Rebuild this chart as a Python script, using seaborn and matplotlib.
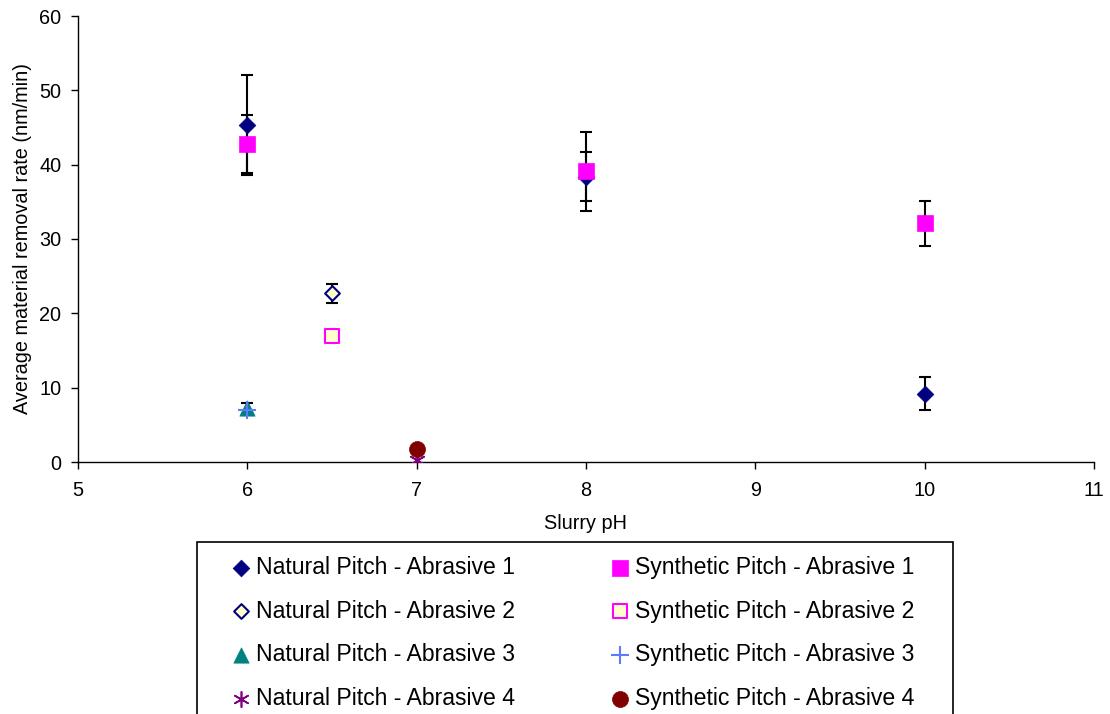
import matplotlib
matplotlib.use("Agg")
import matplotlib.pyplot as plt
import matplotlib.patches as mpatches
import seaborn as sns
import pandas as pd

sns.set_style("ticks")
plt.rcParams['font.family'] = ['Liberation Sans', 'DejaVu Sans']
plt.rcParams['text.color'] = 'black'
plt.rcParams['axes.labelcolor'] = 'black'

# ---- data ----
nat_a1_x = [6, 8, 10]
nat_a1_y = [45.3, 38.4, 9.2]
nat_a1_err = [6.7, 3.35, 2.2]

syn_a1_x = [6, 8, 10]
syn_a1_y = [42.8, 39.1, 32.1]
syn_a1_err = [3.9, 5.3, 3.05]

nat_a2_x = [6.5]
nat_a2_y = [22.7]
nat_a2_err = [1.25]

syn_a2_x = [6.5]
syn_a2_y = [17.0]
syn_a2_err = [0.3]

nat_a3_x = [6]
nat_a3_y = [7.2]
nat_a3_err = [0.8]

syn_a3_x = [6]
syn_a3_y = [7.0]

nat_a4_x = [7]
nat_a4_y = [0.3]

syn_a4_x = [7]
syn_a4_y = [1.8]

series = [
    ("Natural Pitch - Abrasive 1", nat_a1_x, nat_a1_y, nat_a1_err, dict(marker="D", s=8.5**2, color="#000080", edgecolor="#000080", linewidth=0.5)),
    ("Natural Pitch - Abrasive 2", nat_a2_x, nat_a2_y, nat_a2_err, dict(marker="D", s=7.5**2, color="#FFFFCC", edgecolor="#000080", linewidth=1.5)),
    ("Natural Pitch - Abrasive 3", nat_a3_x, nat_a3_y, nat_a3_err, dict(marker="^", s=11**2, color="#008080", edgecolor="#008080", linewidth=0.5)),
    ("Natural Pitch - Abrasive 4", nat_a4_x, nat_a4_y, None, dict(marker=(6, 2, 0), s=11**2, color="#800080", linewidth=1.2)),
    ("Synthetic Pitch - Abrasive 1", syn_a1_x, syn_a1_y, syn_a1_err, dict(marker="s", s=12**2, color="#FF00FF", edgecolor="#FF00FF", linewidth=0.5)),
    ("Synthetic Pitch - Abrasive 2", syn_a2_x, syn_a2_y, syn_a2_err, dict(marker="s", s=10.5**2, color="#FFFFCC", edgecolor="#FF00FF", linewidth=1.5)),
    ("Synthetic Pitch - Abrasive 3", syn_a3_x, syn_a3_y, None, dict(marker="+", s=13**2, color="#5B7CFF", linewidth=1.5)),
    ("Synthetic Pitch - Abrasive 4", syn_a4_x, syn_a4_y, None, dict(marker="o", s=11.5**2, color="#800000", edgecolor="#800000", linewidth=0.5)),
]

fig = plt.figure(figsize=(11.10, 7.14), dpi=100)
ax = fig.add_axes([78/1110, 1-462/714, (1094-78)/1110, (462-16)/714])

handles = {}
for name, xs, ys, err, style in series:
    if err is not None:
        ax.errorbar(xs, ys, yerr=err, fmt="none", ecolor="black", elinewidth=1.5,
                    capsize=4, capthick=1.5, zorder=2)
    df = pd.DataFrame({"x": xs, "y": ys})
    sns.scatterplot(data=df, x="x", y="y", ax=ax, zorder=3, label=name, legend=False, **style)
    handles[name] = ax.collections[-1]

ax.set_xlim(5, 11)
ax.set_ylim(0, 60)
ax.set_xticks([5, 6, 7, 8, 9, 10, 11])
ax.set_yticks([0, 10, 20, 30, 40, 50, 60])
ax.tick_params(axis="both", labelsize=14.3, length=5, width=1, colors="black")
ax.tick_params(axis="x", pad=9)
ax.tick_params(axis="y", pad=7)
ax.set_xlabel("Slurry pH", fontsize=14.3, labelpad=10)
ax.set_ylabel("Average material removal rate (nm/min)", fontsize=14.3, labelpad=5)
for sp in ["top", "right"]:
    ax.spines[sp].set_visible(False)
for sp in ["left", "bottom"]:
    ax.spines[sp].set_color("black")
    ax.spines[sp].set_linewidth(1)

# legend frame
frame = mpatches.Rectangle((197/1110, -0.05), (953-197)/1110, (0.05 + 1 - 542/714),
                           transform=fig.transFigure, facecolor="white", edgecolor="black",
                           linewidth=1.2, zorder=0)
fig.patches.append(frame)

names = [s[0] for s in series]
leg = fig.legend([handles[n] for n in names], names, loc="upper left",
                 bbox_to_anchor=(231/1110, 1-556/714), ncol=2, frameon=False,
                 fontsize=16.6, handlelength=0.9, handletextpad=0.2,
                 columnspacing=4.1, labelspacing=0.89, borderaxespad=0, borderpad=0)
for t in leg.get_texts():
    t.set_color("black")

fig.savefig("out.png", dpi=100)
